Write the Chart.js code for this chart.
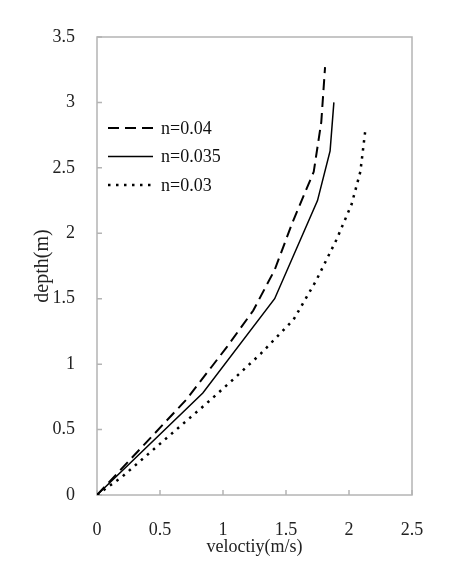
<!DOCTYPE html>
<html>
<head>
<meta charset="utf-8">
<script src="https://cdn.jsdelivr.net/npm/chart.js@4"></script>
<style>
  html, body { margin: 0; padding: 0; background: #fff; }
  canvas { display: block; }
</style>
</head>
<body>
<canvas id="velChart" width="456" height="567"></canvas>
<script>
// values: velocity (m/s) and depth (m)
const seriesNames = ['n=0.04', 'n=0.035', 'n=0.03'];

const vel04 = [0, 0.71, 0.91, 1.03, 1.24, 1.41, 1.55, 1.72, 1.78, 1.81];
const dep04 = [0, 0.73, 0.98, 1.13, 1.41, 1.72, 2.08, 2.47, 2.85, 3.27];

const vel035 = [0, 0.84, 1.41, 1.75, 1.85, 1.88];
const dep035 = [0, 0.78, 1.50, 2.25, 2.63, 3.00];

const vel03 = [0, 0.20, 0.63, 0.87, 1.10, 1.30, 1.56, 1.74, 1.90, 2.02, 2.09, 2.13];
const dep03 = [0, 0.14, 0.50, 0.70, 0.90, 1.08, 1.34, 1.64, 1.95, 2.22, 2.47, 2.79];

const xTicks = [0, 0.5, 1, 1.5, 2, 2.5];
const yTicks = [0, 0.5, 1, 1.5, 2, 2.5, 3, 3.5];

const serif = "'Liberation Serif', 'Times New Roman', serif";

function toPoints(xs, ys) {
    return xs.map((x, i) => ({ x: x, y: ys[i] }));
}

// grey frame round the plot, with short tick marks pointing inward
const framePlugin = {
    id: 'frame',
    beforeDatasetsDraw(chart) {
        const { ctx, chartArea: a, scales } = chart;
        ctx.save();
        ctx.strokeStyle = '#b4b4b4';
        ctx.lineWidth = 1.5;
        ctx.strokeRect(a.left, a.top, a.right - a.left, a.bottom - a.top);
        ctx.beginPath();
        xTicks.forEach(v => {
            const px = scales.x.getPixelForValue(v);
            ctx.moveTo(px, a.bottom);
            ctx.lineTo(px, a.bottom - 5);
        });
        yTicks.forEach(v => {
            const py = scales.y.getPixelForValue(v);
            ctx.moveTo(a.left, py);
            ctx.lineTo(a.left + 5, py);
        });
        ctx.stroke();
        ctx.restore();
    }
};

// legend inside the plot, top left, using each dataset's own line style
const insideLegend = {
    id: 'insideLegend',
    afterDatasetsDraw(chart) {
        const { ctx, chartArea: a } = chart;
        const x0 = a.left + 11;
        let y = a.top + 91;
        ctx.save();
        ctx.font = '18px ' + serif;
        ctx.textBaseline = 'middle';
        ctx.fillStyle = '#111';
        chart.data.datasets.forEach(ds => {
            ctx.strokeStyle = ds.borderColor;
            ctx.lineWidth = ds.borderWidth;
            ctx.setLineDash(ds.borderDash || []);
            ctx.beginPath();
            ctx.moveTo(x0, y);
            ctx.lineTo(x0 + 45, y);
            ctx.stroke();
            ctx.fillText(ds.label, x0 + 53, y + 1);
            y += 28.5;
        });
        ctx.restore();
    }
};

const ctx = document.getElementById('velChart').getContext('2d');
const velChart = new Chart(ctx, {
    type: 'scatter',
    data: {
        datasets: [{
            label: seriesNames[0],
            data: toPoints(vel04, dep04),
            showLine: true,
            borderColor: '#000',
            borderWidth: 2,
            borderDash: [11, 6],
            pointRadius: 0,
            tension: 0
        }, {
            label: seriesNames[1],
            data: toPoints(vel035, dep035),
            showLine: true,
            borderColor: '#000',
            borderWidth: 1.5,
            borderDash: [],
            pointRadius: 0,
            tension: 0
        }, {
            label: seriesNames[2],
            data: toPoints(vel03, dep03),
            showLine: true,
            borderColor: '#000',
            borderWidth: 2.5,
            borderDash: [2.5, 5.5],
            pointRadius: 0,
            tension: 0
        }]
    },
    options: {
        responsive: false,
        animation: false,
        devicePixelRatio: 1,
        layout: {
            padding: { top: 37, right: 44, left: 0, bottom: 0 }
        },
        plugins: {
            tooltip: { enabled: false },
            legend: { display: false }
        },
        scales: {
            x: {
                type: 'linear',
                min: 0,
                max: 2.5,
                afterFit: (scale) => { scale.height = 72; },
                afterBuildTicks: (scale) => { scale.ticks = xTicks.map(v => ({ value: v })); },
                grid: { display: false },
                border: { display: false },
                ticks: {
                    padding: 16,
                    color: '#222',
                    font: { family: serif, size: 18 },
                    callback: (v) => String(v)
                },
                title: {
                    display: true,
                    text: 'veloctiy(m/s)',
                    color: '#222',
                    font: { family: serif, size: 18 },
                    padding: { top: 0, bottom: 9 }
                }
            },
            y: {
                type: 'linear',
                min: 0,
                max: 3.5,
                afterFit: (scale) => { scale.width = 97; },
                afterBuildTicks: (scale) => { scale.ticks = yTicks.map(v => ({ value: v })); },
                grid: { display: false },
                border: { display: false },
                ticks: {
                    padding: 14,
                    color: '#222',
                    font: { family: serif, size: 18 },
                    callback: (v) => String(v)
                },
                title: {
                    display: true,
                    text: 'depth(m)',
                    color: '#222',
                    font: { family: serif, size: 20 },
                    padding: { top: 31, bottom: 0 }
                }
            }
        }
    },
    plugins: [framePlugin, insideLegend]
});
</script>
</body>
</html>
